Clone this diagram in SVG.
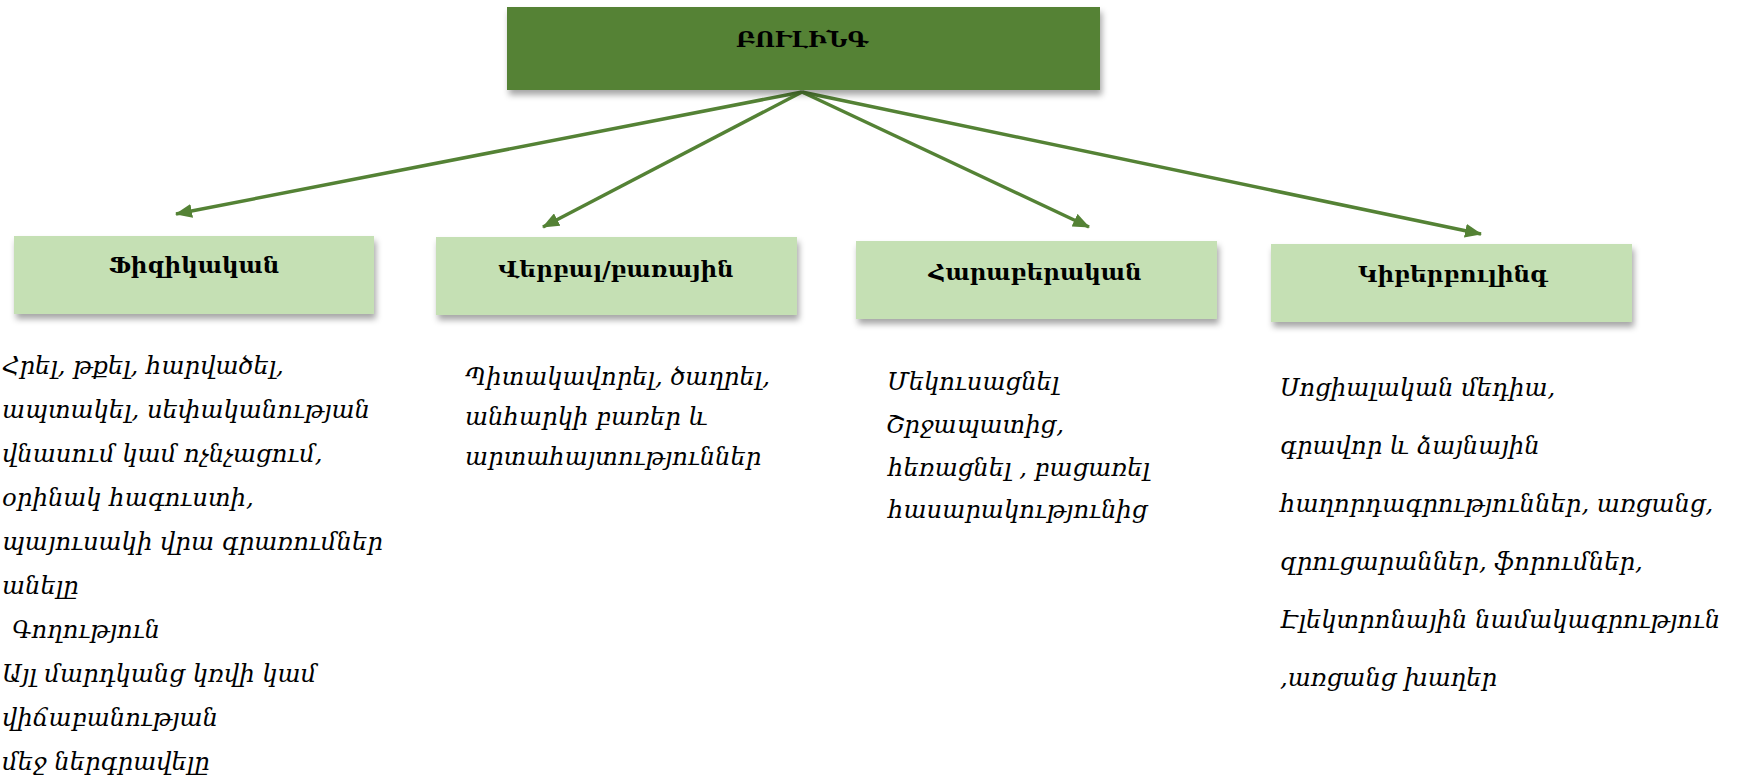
<svg xmlns="http://www.w3.org/2000/svg" width="1746" height="779" viewBox="0 0 1746 779">
<defs>
<filter id="sh" x="-10%" y="-20%" width="120%" height="150%">
<feDropShadow dx="2" dy="5" stdDeviation="3" flood-color="#000" flood-opacity="0.35"/>
</filter>
<marker id="ah" markerUnits="userSpaceOnUse" markerWidth="18" markerHeight="14" refX="16" refY="7" orient="auto">
<path d="M0,0 L17,7 L0,14 z" fill="#548235"/>
</marker>
</defs>
<style>
.top{fill:#548235;filter:url(#sh)}
.cat{fill:#C5E0B4;filter:url(#sh)}
.ttl{font-family:"DejaVu Serif","Noto Sans",serif;font-weight:bold;font-size:23px;fill:#000;text-anchor:middle}
.lbl{font-family:"DejaVu Serif","Noto Sans",serif;font-weight:bold;font-size:23px;fill:#000;text-anchor:middle}
.body{font-family:"DejaVu Serif","Noto Sans",serif;font-style:italic;font-size:24.3px;fill:#000}
.con{stroke:#548235;stroke-width:3.5;fill:none;marker-end:url(#ah)}
</style>
<rect width="1746" height="779" fill="#fff"/>
<g id="connectors">
<line class="con" x1="802" y1="92" x2="176" y2="214"/>
<line class="con" x1="802" y1="92" x2="543" y2="227"/>
<line class="con" x1="802" y1="92" x2="1089" y2="227"/>
<line class="con" x1="802" y1="92" x2="1481" y2="234"/>
</g>
<g id="n0">
<rect class="top" x="507" y="7" width="593" height="83"/>
<text class="ttl" x="802" y="47">ԲՈՒԼԻՆԳ</text>
</g>
<g id="n1">
<rect class="cat" x="14" y="236" width="360" height="78"/>
<text class="lbl" x="194" y="273">Ֆիզիկական</text>
</g>
<g id="n2">
<rect class="cat" x="436" y="237" width="361" height="78"/>
<text class="lbl" x="616" y="277">Վերբալ/բառային</text>
</g>
<g id="n3">
<rect class="cat" x="856" y="241" width="361" height="78"/>
<text class="lbl" x="1035" y="280">Հարաբերական</text>
</g>
<g id="n4">
<rect class="cat" x="1271" y="244" width="361" height="78"/>
<text class="lbl" x="1453" y="282">Կիբերբուլինգ</text>
</g>
<g id="t1">
<text class="body" x="2" y="374">Հրել, թքել, հարվածել,</text>
<text class="body" x="2" y="418">ապտակել, սեփականության</text>
<text class="body" x="2" y="462">վնասում կամ ոչնչացում,</text>
<text class="body" x="2" y="506">օրինակ հագուստի,</text>
<text class="body" x="2" y="550">պայուսակի վրա գրառումներ</text>
<text class="body" x="2" y="594">անելը</text>
<text class="body" x="12" y="638">Գողություն</text>
<text class="body" x="2" y="682">Այլ մարդկանց կռվի կամ</text>
<text class="body" x="2" y="726">վիճաբանության</text>
<text class="body" x="2" y="770">մեջ ներգրավելը</text>
</g>
<g id="t2">
<text class="body" x="465" y="385">Պիտակավորել, ծաղրել,</text>
<text class="body" x="465" y="425">անհարկի բառեր և</text>
<text class="body" x="465" y="465">արտահայտություններ</text>
</g>
<g id="t3">
<text class="body" x="887" y="390">Մեկուսացնել</text>
<text class="body" x="886" y="433">Շրջապատից,</text>
<text class="body" x="888" y="476">հեռացնել , բացառել</text>
<text class="body" x="888" y="518">հասարակությունից</text>
</g>
<g id="t4">
<text class="body" x="1280" y="396">Սոցիալական մեդիա,</text>
<text class="body" x="1280" y="454">գրավոր և ձայնային</text>
<text class="body" x="1280" y="512">հաղորդագրություններ, առցանց,</text>
<text class="body" x="1280" y="570">զրուցարաններ, ֆորումներ,</text>
<text class="body" x="1280" y="628">Էլեկտրոնային նամակագրություն</text>
<text class="body" x="1280" y="686">,առցանց խաղեր</text>
</g>
</svg>
